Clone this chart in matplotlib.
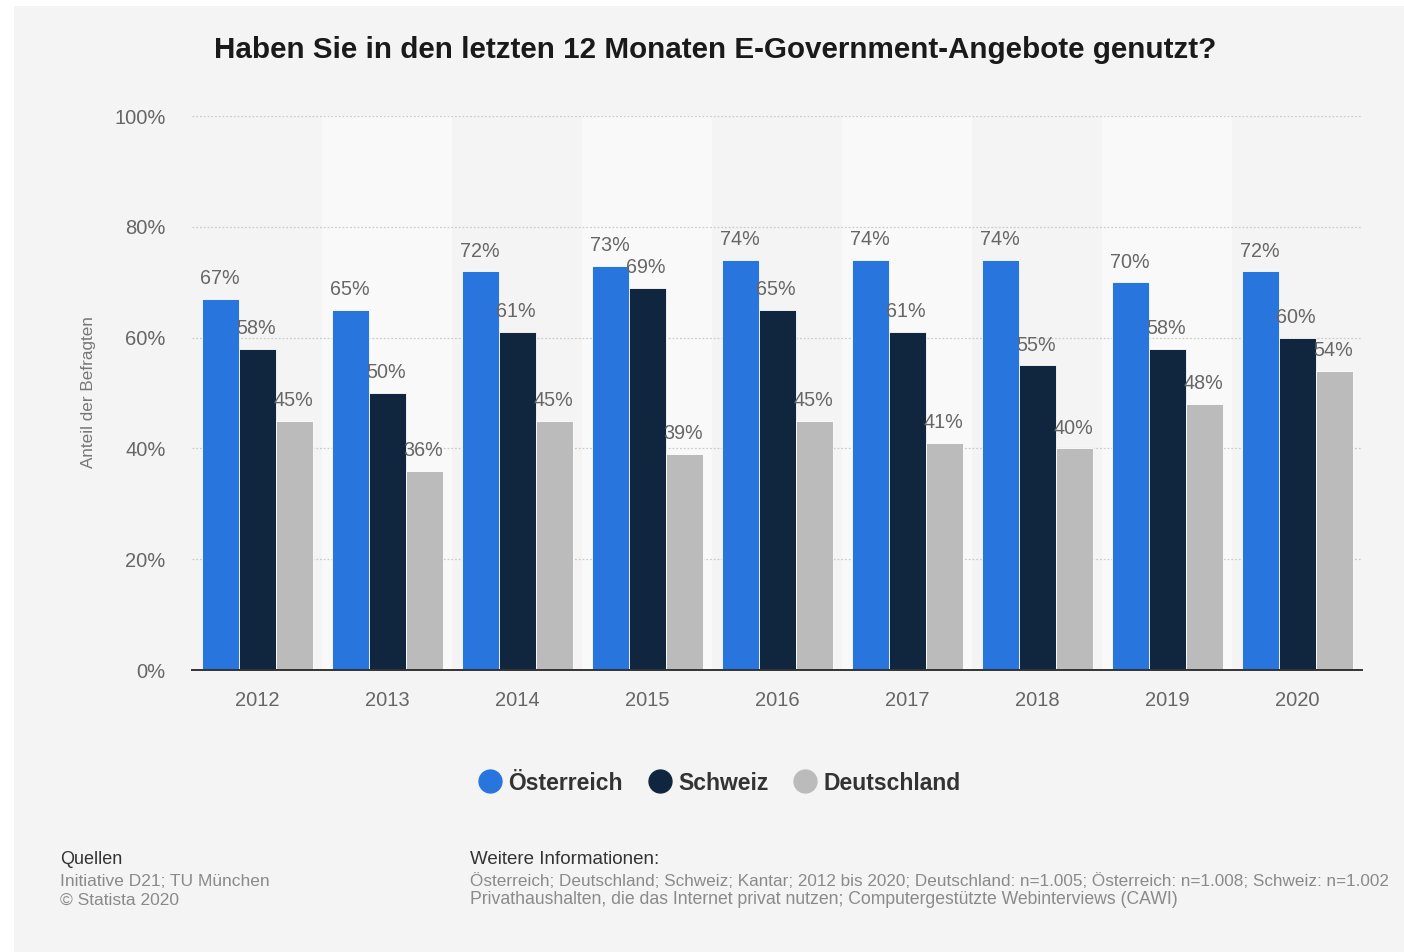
import matplotlib
matplotlib.use("Agg")
import matplotlib.pyplot as plt
from matplotlib.lines import Line2D
from matplotlib.patches import Rectangle
import numpy as np

# Survey results (share of respondents in %)
years = ["2012", "2013", "2014", "2015", "2016", "2017", "2018", "2019", "2020"]
oesterreich = [67, 65, 72, 73, 74, 74, 74, 70, 72]
schweiz = [58, 50, 61, 69, 65, 61, 55, 58, 60]
deutschland = [45, 36, 45, 39, 45, 41, 40, 48, 54]
series_names = ["Österreich", "Schweiz", "Deutschland"]
y_ticks = [0, 20, 40, 60, 80, 100]

colors = ["#2876dd", "#10263f", "#bbbbbb"]
BG = "#f4f4f4"
BAND = "#f9f9f9"

plt.rcParams["font.family"] = ["Liberation Sans", "DejaVu Sans"]

W, H = 1404, 952
fig = plt.figure(figsize=(W / 100, H / 100), dpi=100)
fig.patch.set_facecolor("white")

# grey card with a thin white margin on top and left
fig.add_artist(Rectangle((14 / W, 0), 1 - 14 / W + 0.01, 1 - 6 / H, transform=fig.transFigure,
                         facecolor=BG, edgecolor="none", zorder=-10))

ax = fig.add_axes([192 / W, 1 - 670 / H, (1362 - 192) / W, (670 - 116) / H])
ax.set_facecolor(BG)
ax.patch.set_alpha(0)

n = len(years)
x = np.arange(n)
ax.set_xlim(-0.5, n - 0.5)
ax.set_ylim(0, 100)

# alternating column bands
for i in range(n):
    if i % 2 == 1:
        ax.axvspan(i - 0.5, i + 0.5, facecolor=BAND, edgecolor="none", zorder=0)

# dotted horizontal grid
for t in y_ticks[1:]:
    ax.axhline(t, color="#cccccc", lw=0.9, ls=(0, (1.5, 1.5)), zorder=1)

width = 0.283
offsets = [-0.284, 0.0, 0.284]
for vals, off, col in zip([oesterreich, schweiz, deutschland], offsets, colors):
    bars = ax.bar(x + off + 0.005, vals, width=width, color=col, edgecolor="white",
                  linewidth=0.6, zorder=3)
    for b, v in zip(bars, vals):
        ax.annotate(f"{v}%", (b.get_x(), v), xytext=(-2, 10.5),
                    textcoords="offset points", ha="left", va="baseline",
                    fontsize=14.2, color="#666666", zorder=4)

ax.set_yticks(y_ticks)
ax.set_yticklabels([f"{t}%" for t in y_ticks])
ax.set_xticks(x)
ax.set_xticklabels(years)
ax.tick_params(axis="y", length=0, pad=19, labelsize=14.5, labelcolor="#666666")
ax.tick_params(axis="x", length=0, pad=15, labelsize=14.5, labelcolor="#666666")

for s in ["top", "right", "left"]:
    ax.spines[s].set_visible(False)
ax.spines["bottom"].set_color("#333333")
ax.spines["bottom"].set_linewidth(1.4)
ax.spines["bottom"].set_zorder(5)

fig.text(88 / W, 1 - 392 / H, "Anteil der Befragten", rotation=90,
         ha="center", va="center", fontsize=12.3, color="#777777")

fig.text(715 / W, 1 - 50 / H,
         "Haben Sie in den letzten 12 Monaten E-Government-Angebote genutzt?",
         ha="center", va="center", fontsize=21.3, fontweight="bold", color="#1a1a1a")

# legend
handles = [Line2D([], [], marker="o", ls="none", markersize=16.5, markerfacecolor=c,
                  markeredgecolor=c) for c in colors]
leg = fig.legend(handles, series_names, loc="center", bbox_to_anchor=(719 / W, 1 - 783 / H),
                 ncol=3, frameon=False, handletextpad=0.25, columnspacing=1.05,
                 handlelength=1.1, prop={"size": 16.5, "weight": "bold"})
for t in leg.get_texts():
    t.set_color("#333333")

# footer
fig.text(60 / W, 1 - 860 / H, "Quellen", ha="left", va="center", fontsize=13, color="#333333")
fig.text(60 / W, 1 - 881 / H, "Initiative D21; TU München", ha="left", va="center",
         fontsize=12.5, color="#8a8a8a")
fig.text(60 / W, 1 - 900 / H, "© Statista 2020", ha="left", va="center",
         fontsize=12.5, color="#8a8a8a")
fig.text(470 / W, 1 - 860 / H, "Weitere Informationen:", ha="left", va="center",
         fontsize=13.5, color="#333333")
fig.text(470 / W, 1 - 881 / H,
         "Österreich; Deutschland; Schweiz; Kantar; 2012 bis 2020; Deutschland: n=1.005; "
         "Österreich: n=1.008; Schweiz: n=1.002",
         ha="left", va="center", fontsize=12.3, color="#8a8a8a")
fig.text(470 / W, 1 - 900 / H,
         "Privathaushalten, die das Internet privat nutzen; Computergestützte Webinterviews (CAWI)",
         ha="left", va="center", fontsize=12.7, color="#8a8a8a")

fig.savefig("out.png", dpi=100, facecolor=fig.get_facecolor())
